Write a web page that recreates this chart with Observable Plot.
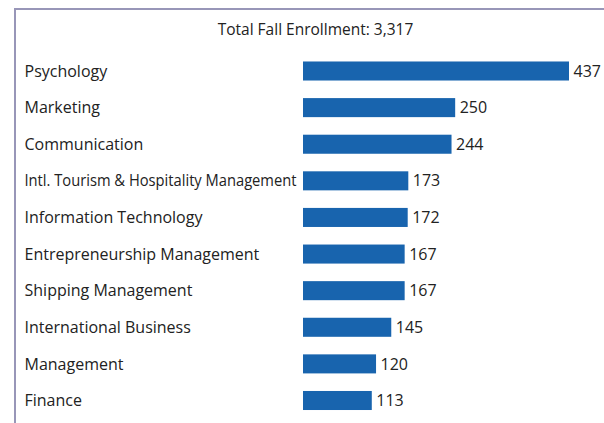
<!DOCTYPE html>
<html>
<head>
<meta charset="utf-8">
<script src="https://cdn.jsdelivr.net/npm/d3@7"></script>
<script src="https://cdn.jsdelivr.net/npm/@observablehq/plot@0.6"></script>
<style>
  html, body { margin: 0; padding: 0; background: #fff; }
  #wrap { position: relative; width: 604px; height: 423px; overflow: hidden; }
  #border { position: absolute; left: 14px; top: 8px; right: 0; bottom: 0;
            border-left: 2px solid #9896b8; border-top: 2px solid #9896b8; pointer-events: none; }
</style>
</head>
<body>
<div id="wrap"><div id="border"></div></div>
<script>
const programs = ["Psychology", "Marketing", "Communication", "Intl. Tourism & Hospitality Management",
  "Information Technology", "Entrepreneurship Management", "Shipping Management",
  "International Business", "Management", "Finance"];
const enrollment = [437, 250, 244, 173, 172, 167, 167, 145, 120, 113];
const title = "Total Fall Enrollment: 3,317";

const data = programs.map((p, i) => ({program: p, value: enrollment[i]}));

const W = 604, H = 423, ML = 303, MR = 35, MT = 50.5;
const frameCenter = (ML + (W - MR)) / 2;

const chart = Plot.plot({
  width: W,
  height: H,
  marginLeft: ML,
  marginRight: MR,
  marginTop: MT,
  marginBottom: 2,
  style: {fontFamily: "'Open Sans', sans-serif", fontSize: "16px", color: "#222", background: "transparent"},
  x: {domain: [0, 437], axis: null},
  y: {domain: programs, paddingInner: 0.48, paddingOuter: 0.3, round: false, axis: null},
  marks: [
    Plot.text(data, {y: "program", frameAnchor: "left", text: "program", textAnchor: "start", dx: 24 - ML,
      fontSize: 16, fill: "#222"}),
    Plot.barX(data, {x: "value", y: "program", fill: "#1864ae"}),
    Plot.text(data, {x: "value", y: "program", text: d => String(d.value), textAnchor: "start", dx: 4, fontSize: 16, fill: "#222"}),
    Plot.text([title], {frameAnchor: "top", lineAnchor: "middle", text: d => d, dx: 315 - frameCenter, dy: 30 - MT, fontSize: 15.5, fill: "#222"})
  ]
});
// condense labels that would run into the bars, as in the reference
d3.select(chart).selectAll("text").each(function() {
  const t = d3.select(this);
  if (t.text().length > 30) t.attr("textLength", 272).attr("lengthAdjust", "spacingAndGlyphs");
});
chart.style.position = "absolute";
chart.style.left = "0";
chart.style.top = "0";
document.getElementById("wrap").prepend(chart);
</script>
</body>
</html>
